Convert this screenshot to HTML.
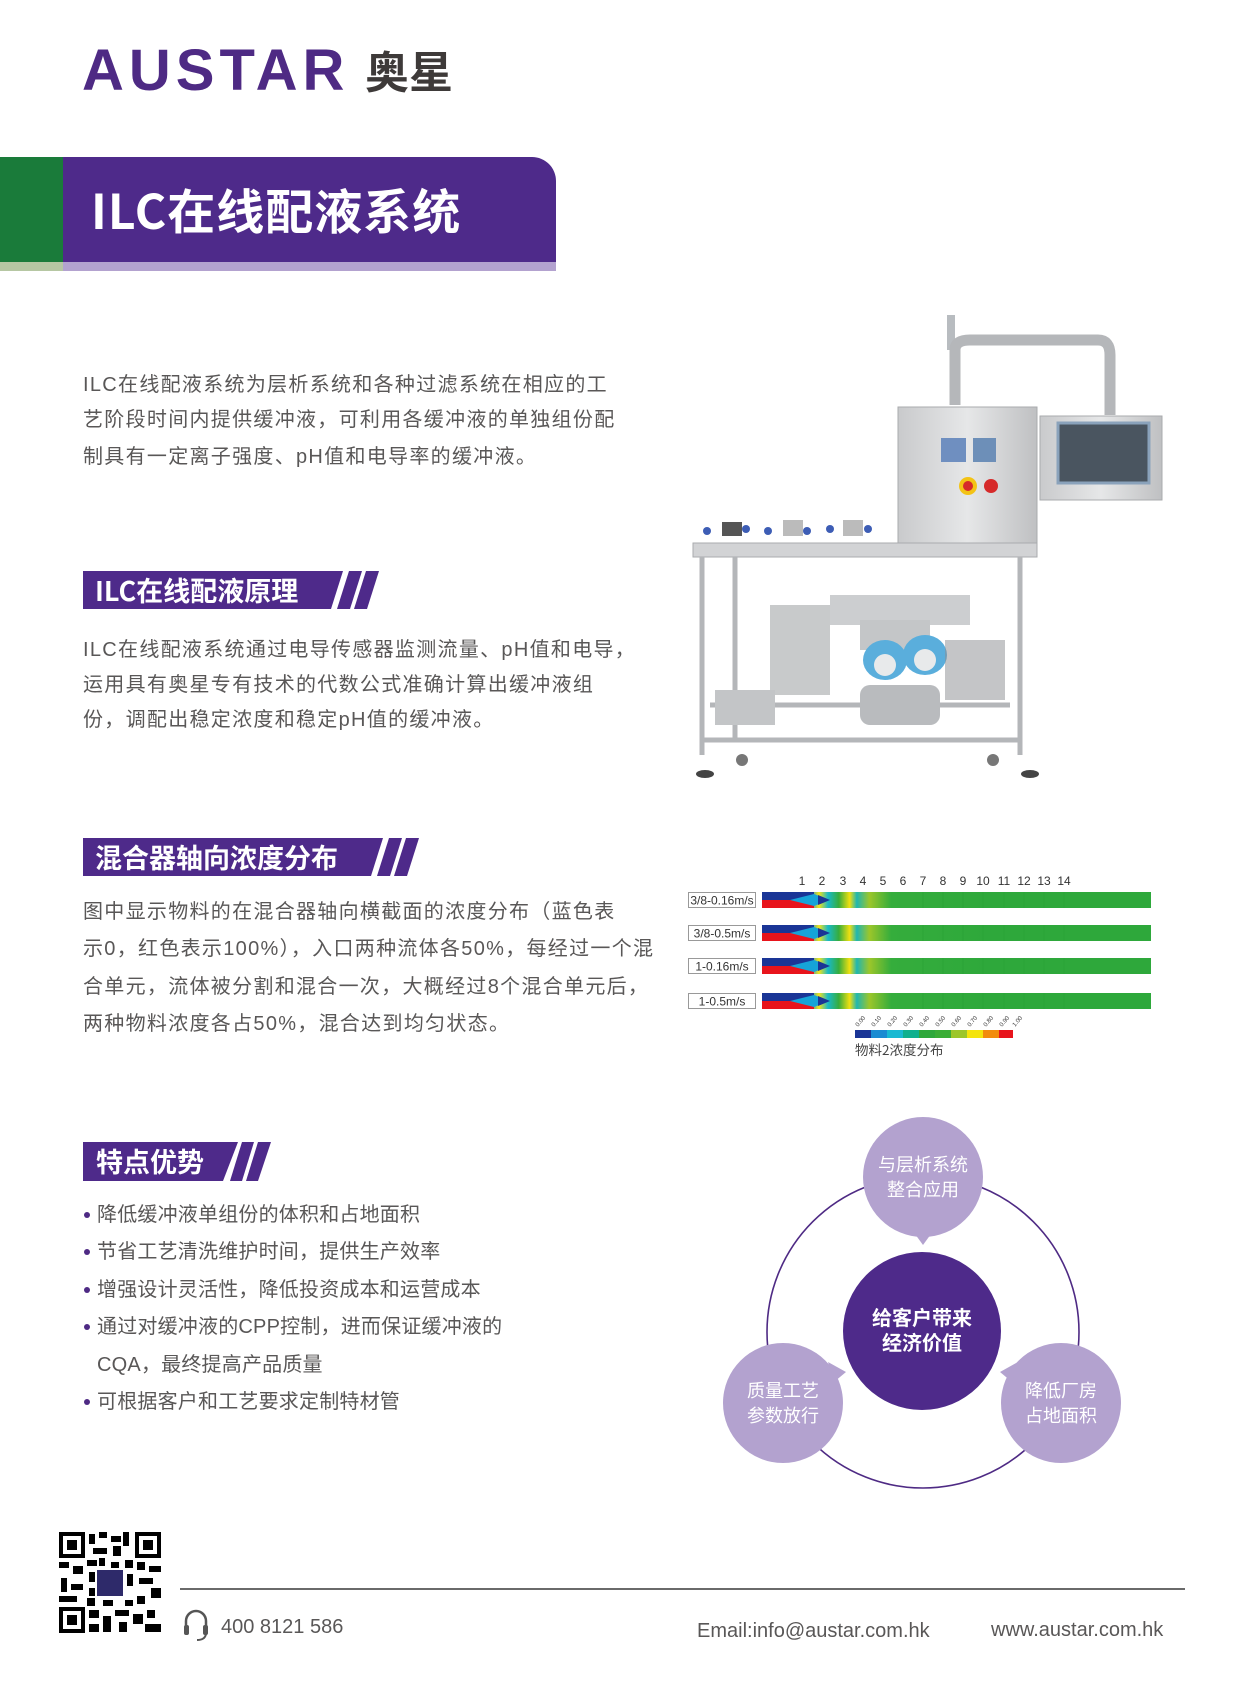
<!DOCTYPE html>
<html><head><meta charset="utf-8">
<style>
*{margin:0;padding:0;box-sizing:border-box}
body{width:1241px;height:1684px;background:#fff;position:relative;overflow:hidden;font-family:"Liberation Sans","Noto Sans CJK SC",sans-serif;color:#595757}
.abs{position:absolute;white-space:nowrap}
.p{position:absolute;left:83px;font-size:20px;letter-spacing:1.3px;line-height:24px;white-space:nowrap}
.b{position:absolute;left:97px;font-size:20px;letter-spacing:0.2px;line-height:24px;white-space:nowrap}
.dot{position:absolute;left:84px;width:6px;height:6px;border-radius:3px;background:#4e2a84}
.h{position:absolute;color:#fff;font-weight:bold;font-size:27px;line-height:30px;font-family:"Noto Sans CJK SC",sans-serif}
</style></head><body>

<!-- logo -->
<div class="abs" style="left:82px;top:40px;font-size:58px;font-weight:bold;color:#4e2a84;letter-spacing:5px;line-height:62px;font-family:'Liberation Sans',sans-serif">AUSTAR</div>
<div class="abs" style="left:365px;top:42px;font-size:44px;font-weight:bold;color:#3e3a39;line-height:54px;font-family:'Noto Sans CJK SC',sans-serif">奥星</div>

<!-- banner -->
<div class="abs" style="left:0;top:262px;width:63px;height:9px;background:#b6c7a3"></div>
<div class="abs" style="left:63px;top:262px;width:493px;height:9px;background:#b3a2cf"></div>
<div class="abs" style="left:0;top:157px;width:63px;height:105px;background:#1a7b3a"></div>
<div class="abs" style="left:63px;top:157px;width:493px;height:105px;background:#4e2a8a;border-top-right-radius:24px"></div>
<div class="abs" style="left:91px;top:178px;font-size:48px;font-weight:bold;color:#fff;line-height:60px;font-family:'Noto Sans CJK SC',sans-serif;letter-spacing:1px">ILC在线配液系统</div>

<!-- intro -->
<div class="p" style="top:373px">ILC在线配液系统为层析系统和各种过滤系统在相应的工</div>
<div class="p" style="top:408px">艺阶段时间内提供缓冲液，可利用各缓冲液的单独组份配</div>
<div class="p" style="top:445px">制具有一定离子强度、pH值和电导率的缓冲液。</div>

<!-- headings -->
<svg class="abs" style="left:0;top:0" width="620" height="1200">
<polygon points="83,571 343,571 331,609 83,609" fill="#4e2a8a"/>
<polygon points="349,571 362,571 350,609 337,609" fill="#4e2a8a"/>
<polygon points="366,571 379,571 367,609 354,609" fill="#4e2a8a"/>
<polygon points="83,838 383,838 371,876 83,876" fill="#4e2a8a"/>
<polygon points="389,838 402,838 390,876 377,876" fill="#4e2a8a"/>
<polygon points="406,838 419,838 407,876 394,876" fill="#4e2a8a"/>
<polygon points="83,1142 238,1142 223,1181 83,1181" fill="#4e2a8a"/>
<polygon points="242,1142 254,1142 242,1181 230,1181" fill="#4e2a8a"/>
<polygon points="258,1142 271,1142 258,1181 246,1181" fill="#4e2a8a"/>
</svg>
<div class="h" style="left:95px;top:575px">ILC在线配液原理</div>
<div class="h" style="left:95px;top:842px">混合器轴向浓度分布</div>
<div class="h" style="left:96px;top:1146px">特点优势</div>

<div class="p" style="top:638px">ILC在线配液系统通过电导传感器监测流量、pH值和电导，</div>
<div class="p" style="top:673px">运用具有奥星专有技术的代数公式准确计算出缓冲液组</div>
<div class="p" style="top:708px">份，调配出稳定浓度和稳定pH值的缓冲液。</div>

<div class="p" style="top:900px">图中显示物料的在混合器轴向横截面的浓度分布（蓝色表</div>
<div class="p" style="top:937px">示0，红色表示100%），入口两种流体各50%，每经过一个混</div>
<div class="p" style="top:975px">合单元，流体被分割和混合一次，大概经过8个混合单元后，</div>
<div class="p" style="top:1012px">两种物料浓度各占50%，混合达到均匀状态。</div>

<div class="dot" style="top:1212px"></div><div class="b" style="top:1203px">降低缓冲液单组份的体积和占地面积</div>
<div class="dot" style="top:1249px"></div><div class="b" style="top:1240px">节省工艺清洗维护时间，提供生产效率</div>
<div class="dot" style="top:1287px"></div><div class="b" style="top:1278px">增强设计灵活性，降低投资成本和运营成本</div>
<div class="dot" style="top:1324px"></div><div class="b" style="top:1315px">通过对缓冲液的CPP控制，进而保证缓冲液的</div>
<div class="b" style="top:1353px">CQA，最终提高产品质量</div>
<div class="dot" style="top:1399px"></div><div class="b" style="top:1390px">可根据客户和工艺要求定制特材管</div>

<!-- machine -->
<svg class="abs" style="left:680px;top:310px" width="500" height="480">
<defs><linearGradient id="st" x1="0" x2="1"><stop offset="0" stop-color="#c9cacc"/><stop offset=".5" stop-color="#e6e7e8"/><stop offset="1" stop-color="#bfc0c2"/></linearGradient></defs>
<rect x="267" y="5" width="8" height="35" fill="#b8bcc0"/>
<path d="M275 95 V40 Q275 30 290 30 H418 Q430 30 430 45 V105" fill="none" stroke="#b5b7ba" stroke-width="11"/>
<rect x="218" y="97" width="139" height="136" fill="url(#st)" stroke="#a9abae"/>
<rect x="261" y="128" width="25" height="24" fill="#6f8fc0"/>
<rect x="293" y="128" width="23" height="24" fill="#6d8fb8"/>
<circle cx="288" cy="176" r="9" fill="#f3c316"/><circle cx="288" cy="176" r="5" fill="#d62a2a"/>
<circle cx="311" cy="176" r="7" fill="#d62a2a"/>
<rect x="360" y="106" width="122" height="84" fill="url(#st)" stroke="#a9abae"/>
<rect x="378" y="113" width="91" height="60" fill="#4a5560" stroke="#8aa2bb" stroke-width="3"/>
<rect x="13" y="233" width="344" height="14" fill="#d2d3d5" stroke="#a9abae"/>
<g fill="none" stroke="#b4b6b9" stroke-width="5">
<path d="M22 247 V445 M340 247 V445 M22 430 H340 M30 395 H330 M55 247 V430"/>
</g>
<rect x="150" y="285" width="140" height="30" fill="#ccced0"/>
<rect x="180" y="310" width="70" height="30" fill="#c4c6c8"/>
<ellipse cx="205" cy="350" rx="22" ry="20" fill="#5aaedc"/><circle cx="205" cy="355" r="11" fill="#e8eaeb"/>
<ellipse cx="245" cy="345" rx="22" ry="20" fill="#5aaedc"/><circle cx="245" cy="350" r="11" fill="#e8eaeb"/>
<rect x="180" y="375" width="80" height="40" rx="10" fill="#b9bbbe"/>
<rect x="90" y="295" width="60" height="90" fill="#a4a6a9" opacity=".6"/>
<rect x="265" y="330" width="60" height="60" fill="#8a8c90" opacity=".5"/>
<rect x="35" y="380" width="60" height="35" fill="#c3c5c7"/>
<g fill="#3d5db5"><circle cx="27" cy="221" r="4"/><circle cx="66" cy="219" r="4"/><circle cx="88" cy="221" r="4"/><circle cx="127" cy="221" r="4"/><circle cx="150" cy="219" r="4"/><circle cx="188" cy="219" r="4"/></g>
<rect x="42" y="212" width="20" height="14" fill="#555"/><rect x="103" y="210" width="20" height="16" fill="#bbb"/><rect x="163" y="210" width="20" height="16" fill="#bbb"/>
<ellipse cx="25" cy="464" rx="9" ry="4" fill="#444"/><ellipse cx="350" cy="464" rx="9" ry="4" fill="#444"/>
<circle cx="62" cy="450" r="6" fill="#777"/><circle cx="313" cy="450" r="6" fill="#777"/>
</svg>

<!-- CFD chart -->
<svg class="abs" style="left:660px;top:860px" width="500" height="210" font-family="Liberation Sans, sans-serif">
<defs>
<linearGradient id="mix" x1="0" x2="1">
<stop offset="0" stop-color="#1e8fd0"/><stop offset=".05" stop-color="#f2e418"/><stop offset=".1" stop-color="#19b9c8"/><stop offset=".16" stop-color="#37ad3c"/><stop offset=".22" stop-color="#f0e010"/><stop offset=".26" stop-color="#20b6b0"/><stop offset=".33" stop-color="#9cc62a"/><stop offset=".45" stop-color="#35ad3c"/><stop offset="1" stop-color="#2ea83b"/>
</linearGradient>
</defs>
<g font-size="12" fill="#333" text-anchor="middle">
<text x="142" y="25">1</text><text x="162" y="25">2</text><text x="183" y="25">3</text><text x="203" y="25">4</text><text x="223" y="25">5</text><text x="243" y="25">6</text><text x="263" y="25">7</text><text x="283" y="25">8</text><text x="303" y="25">9</text><text x="323" y="25">10</text><text x="344" y="25">11</text><text x="364" y="25">12</text><text x="384" y="25">13</text><text x="404" y="25">14</text>
</g>
<g transform="translate(0,32)">
<rect x="28.5" y="0.5" width="67" height="15" fill="#fff" stroke="#999"/><text x="62" y="12.5" font-size="12" text-anchor="middle" fill="#333">3/8-0.16m/s</text>
<rect x="102" y="0" width="389" height="16" fill="#2ea83b"/>
<rect x="150" y="0" width="180" height="16" fill="url(#mix)"/>
<rect x="102" y="0" width="52" height="8" fill="#1a3596"/><rect x="102" y="8" width="52" height="8" fill="#e8141c"/>
<polygon points="130,8 154,2 170,8 154,14" fill="#16a4d8"/><polygon points="158,3 170,8 158,13" fill="#1a3596"/>
</g>
<g transform="translate(0,65)">
<rect x="28.5" y="0.5" width="67" height="15" fill="#fff" stroke="#999"/><text x="62" y="12.5" font-size="12" text-anchor="middle" fill="#333">3/8-0.5m/s</text>
<rect x="102" y="0" width="389" height="16" fill="#2ea83b"/>
<rect x="150" y="0" width="180" height="16" fill="url(#mix)"/>
<rect x="102" y="0" width="52" height="8" fill="#1a3596"/><rect x="102" y="8" width="52" height="8" fill="#e8141c"/>
<polygon points="130,8 154,2 170,8 154,14" fill="#16a4d8"/><polygon points="158,3 170,8 158,13" fill="#1a3596"/>
</g>
<g transform="translate(0,98)">
<rect x="28.5" y="0.5" width="67" height="15" fill="#fff" stroke="#999"/><text x="62" y="12.5" font-size="12" text-anchor="middle" fill="#333">1-0.16m/s</text>
<rect x="102" y="0" width="389" height="16" fill="#2ea83b"/>
<rect x="150" y="0" width="180" height="16" fill="url(#mix)"/>
<rect x="102" y="0" width="52" height="8" fill="#1a3596"/><rect x="102" y="8" width="52" height="8" fill="#e8141c"/>
<polygon points="130,8 154,2 170,8 154,14" fill="#16a4d8"/><polygon points="158,3 170,8 158,13" fill="#1a3596"/>
</g>
<g transform="translate(0,133)">
<rect x="28.5" y="0.5" width="67" height="15" fill="#fff" stroke="#999"/><text x="62" y="12.5" font-size="12" text-anchor="middle" fill="#333">1-0.5m/s</text>
<rect x="102" y="0" width="389" height="16" fill="#2ea83b"/>
<rect x="150" y="0" width="180" height="16" fill="url(#mix)"/>
<rect x="102" y="0" width="52" height="8" fill="#1a3596"/><rect x="102" y="8" width="52" height="8" fill="#e8141c"/>
<polygon points="130,8 154,2 170,8 154,14" fill="#16a4d8"/><polygon points="158,3 170,8 158,13" fill="#1a3596"/>
</g>
<g stroke="#27a035" stroke-width="1" opacity=".6">
<path d="M263 32v16M283 32v16M303 32v16M323 32v16M344 32v16M364 32v16M384 32v16M404 32v16M263 65v16M283 65v16M303 65v16M323 65v16M344 65v16M364 65v16M384 65v16M404 65v16M263 98v16M283 98v16M303 98v16M323 98v16M344 98v16M364 98v16M384 98v16M404 98v16M263 133v16M283 133v16M303 133v16M323 133v16M344 133v16M364 133v16M384 133v16M404 133v16"/>
</g>
<g transform="translate(195,170)">
<rect x="0" width="16" height="8" fill="#1a3596"/><rect x="16" width="16" height="8" fill="#1a8bd2"/><rect x="32" width="16" height="8" fill="#19b9d2"/><rect x="48" width="16" height="8" fill="#0fb08e"/><rect x="64" width="16" height="8" fill="#2ea83b"/><rect x="80" width="16" height="8" fill="#3aad36"/><rect x="96" width="16" height="8" fill="#9cc62a"/><rect x="112" width="16" height="8" fill="#f4e40c"/><rect x="128" width="16" height="8" fill="#f28c0c"/><rect x="144" width="14" height="8" fill="#e8141c"/>
<g font-size="6" fill="#333"><text transform="translate(3,-3) rotate(-50)">0.00</text><text transform="translate(19,-3) rotate(-50)">0.10</text><text transform="translate(35,-3) rotate(-50)">0.20</text><text transform="translate(51,-3) rotate(-50)">0.30</text><text transform="translate(67,-3) rotate(-50)">0.40</text><text transform="translate(83,-3) rotate(-50)">0.50</text><text transform="translate(99,-3) rotate(-50)">0.60</text><text transform="translate(115,-3) rotate(-50)">0.70</text><text transform="translate(131,-3) rotate(-50)">0.80</text><text transform="translate(147,-3) rotate(-50)">0.90</text><text transform="translate(160,-3) rotate(-50)">1.00</text></g>
</g>
<text x="195" y="195" font-size="13.5" fill="#444" font-family="Noto Sans CJK SC, sans-serif">物料2浓度分布</text>
</svg>

<!-- circle diagram -->
<svg class="abs" style="left:700px;top:1100px" width="440" height="400" font-family="Noto Sans CJK SC, sans-serif">
<circle cx="223" cy="232" r="156" fill="none" stroke="#4e2a84" stroke-width="1.6"/>
<circle cx="222" cy="231" r="79" fill="#4e2a8a"/>
<circle cx="223" cy="77" r="60" fill="#b3a2cf"/>
<polygon points="215,134 231,134 223,145" fill="#b3a2cf"/>
<circle cx="83" cy="303" r="60" fill="#b3a2cf"/>
<polygon points="128,262 146,272 134,282" fill="#b3a2cf"/>
<circle cx="361" cy="303" r="60" fill="#b3a2cf"/>
<polygon points="318,262 300,272 312,282" fill="#b3a2cf"/>
<g fill="#fff" text-anchor="middle" font-size="18">
<text x="223" y="71">与层析系统</text><text x="223" y="96">整合应用</text>
<text x="83" y="297">质量工艺</text><text x="83" y="322">参数放行</text>
<text x="361" y="297">降低厂房</text><text x="361" y="322">占地面积</text>
<text x="222" y="225" font-size="20" font-weight="bold">给客户带来</text><text x="222" y="250" font-size="20" font-weight="bold">经济价值</text>
</g>
</svg>

<!-- footer -->
<svg class="abs" style="left:59px;top:1532px" width="102" height="101">
<rect width="102" height="101" fill="#fff"/>
<g fill="#000">
<rect x="0" y="0" width="26" height="26"/><rect x="76" y="0" width="26" height="26"/><rect x="0" y="75" width="26" height="26"/>
</g>
<g fill="#fff"><rect x="4" y="4" width="18" height="18"/><rect x="80" y="4" width="18" height="18"/><rect x="4" y="79" width="18" height="18"/></g>
<g fill="#000"><rect x="8" y="8" width="10" height="10"/><rect x="84" y="8" width="10" height="10"/><rect x="8" y="83" width="10" height="10"/>
<rect x="30" y="2" width="6" height="10"/><rect x="40" y="0" width="8" height="6"/><rect x="52" y="4" width="10" height="6"/><rect x="64" y="0" width="6" height="14"/><rect x="34" y="16" width="14" height="6"/><rect x="54" y="14" width="8" height="10"/>
<rect x="0" y="30" width="10" height="6"/><rect x="14" y="34" width="10" height="8"/><rect x="2" y="46" width="6" height="14"/><rect x="12" y="52" width="12" height="6"/><rect x="0" y="64" width="18" height="6"/>
<rect x="78" y="30" width="8" height="8"/><rect x="90" y="34" width="12" height="6"/><rect x="80" y="46" width="14" height="6"/><rect x="92" y="56" width="10" height="10"/><rect x="78" y="64" width="8" height="8"/>
<rect x="30" y="78" width="10" height="8"/><rect x="44" y="84" width="8" height="16"/><rect x="56" y="78" width="14" height="6"/><rect x="74" y="82" width="10" height="10"/><rect x="88" y="78" width="8" height="8"/><rect x="86" y="92" width="16" height="8"/><rect x="30" y="92" width="10" height="8"/><rect x="60" y="90" width="8" height="10"/>
<rect x="28" y="28" width="10" height="6"/><rect x="66" y="28" width="8" height="8"/><rect x="28" y="66" width="8" height="8"/><rect x="66" y="68" width="8" height="6"/>
<rect x="40" y="26" width="6" height="8"/><rect x="52" y="30" width="8" height="6"/><rect x="30" y="40" width="6" height="10"/><rect x="68" y="42" width="6" height="12"/><rect x="30" y="56" width="6" height="8"/><rect x="44" y="68" width="10" height="6"/>
</g>
<rect x="38" y="38" width="26" height="26" fill="#2e2a6a"/>
</svg>
<div class="abs" style="left:180px;top:1588px;width:1005px;height:2px;background:#6a6a6a"></div>
<svg class="abs" style="left:181px;top:1607px" width="30" height="36">
<path d="M5 20 V14 A10 10 0 0 1 25 14 V20" fill="none" stroke="#555" stroke-width="2.5"/>
<rect x="3" y="18" width="5" height="10" rx="2" fill="#555"/><rect x="22" y="18" width="5" height="10" rx="2" fill="#555"/>
<path d="M25 27 Q24 33 16 33" fill="none" stroke="#555" stroke-width="2"/>
</svg>
<div class="abs" style="left:221px;top:1615px;font-size:20px;color:#595757;line-height:24px">400 8121 586</div>
<div class="abs" style="left:697px;top:1619px;font-size:20px;color:#595757;line-height:24px">Email:info@austar.com.hk</div>
<div class="abs" style="left:991px;top:1618px;font-size:20px;color:#595757;line-height:24px">www.austar.com.hk</div>
</body></html>
